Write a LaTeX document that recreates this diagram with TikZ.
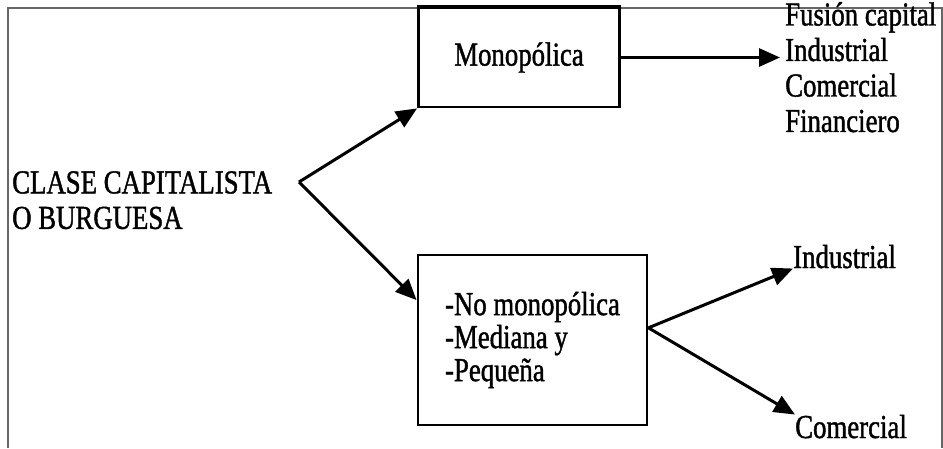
\documentclass[tikz,border=0pt]{standalone}
\usepackage{fontspec}
\setmainfont[FakeStretch=0.8,FakeBold=1.2]{Liberation Serif}
\usetikzlibrary{arrows.meta}
\begin{document}
\begin{tikzpicture}[x=1pt,y=-1pt,
  lbl/.style={inner sep=0pt, align=left, font=\fontsize{33.5}{35.5}\selectfont},
  boxnode/.style={draw=black, line width=2.8pt, align=left, inner sep=0pt,
    font=\fontsize{33.5}{33}\selectfont},
  arr/.style={line width=3pt, -{Triangle[length=21pt,width=18pt]}},
  frame/.style={draw=black!60, line width=2pt}]
\useasboundingbox (0,0) rectangle (943,448);
\draw[frame] (8,448) -- (8,8) -- (942,8) -- (942,448);
% nodes
\node[lbl, anchor=north west] (clase) at (12,171) {CLASE CAPITALISTA\\O BURGUESA};
\coordinate (fork) at (299,182);
\node[boxnode, minimum width=201pt, minimum height=99pt] (mono) at (519,57.5) {Monop\'olica};
\node[boxnode, minimum width=229pt, minimum height=170pt] (nomono) at (532.5,340)
  {-No monop\'olica\\-Mediana y\\-Peque\~na};
\node[lbl, anchor=north west] (list) at (785,2) {Fusi\'on capital\\Industrial\\Comercial\\Financiero};
\node[lbl, anchor=base west] (ind) at (793,268) {Industrial};
\node[lbl, anchor=base west] (com) at (795,438) {Comercial};
% connectors
\draw[line width=2.8pt] (mono.north west) -- (mono.north east);
\draw[arr] (fork) -- (mono.south west);
\draw[arr] (fork) -- (nomono.161);
\draw[arr] (mono.east) -- (780,57.5);
\coordinate (split) at (nomono.6.5);
\draw[arr] (split) -- (ind.south west);
\draw[arr] (split) -- (com.north west);
\end{tikzpicture}
\end{document}
